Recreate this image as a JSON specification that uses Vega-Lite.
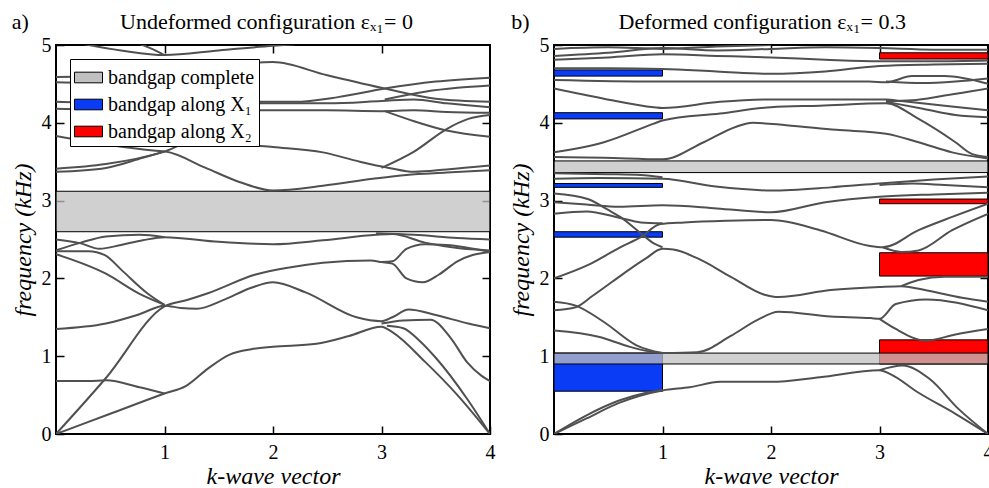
{
  "$schema": "https://vega.github.io/schema/vega-lite/v6.json",
  "padding": {"left": 10, "top": 9, "right": 0, "bottom": 0},
  "background": "white",
  "config": {
    "font": "Liberation Serif",
    "view": {"stroke": "black", "strokeWidth": 2},
    "axis": {"domain": false, "grid": false, "tickColor": "black", "tickWidth": 1.5, "tickSize": -8,
      "labelFont": "Liberation Serif", "labelFontSize": 20, "labelColor": "black", "labelFlush": false, "labelOverlap": false,
      "titleFont": "Liberation Serif", "titleFontSize": 24, "titleFontWeight": "normal", "titleFontStyle": "italic", "titleColor": "black"}
  },
  "datasets": {
    "tags": [
      {"p": "a", "k": -0.33, "f": 5.21, "t": "a)"},
      {"p": "a", "k": 1.94, "f": 5.21, "t": "Undeformed configuration  εₓ₁= 0"},
      {"p": "b", "k": -0.31, "f": 5.21, "t": "b)"},
      {"p": "b", "k": 1.92, "f": 5.21, "t": "Deformed configuration  εₓ₁= 0.3"}
    ],
    "gaps": [
      {"p": "a", "type": "bandgap complete", "k1": 0, "k2": 4, "f1": 2.6, "f2": 3.12},
      {"p": "b", "type": "bandgap along X₁", "k1": 0, "k2": 1, "f1": 4.6, "f2": 4.68},
      {"p": "b", "type": "bandgap along X₁", "k1": 0, "k2": 1, "f1": 4.05, "f2": 4.13},
      {"p": "b", "type": "bandgap along X₁", "k1": 0, "k2": 1, "f1": 3.17, "f2": 3.22},
      {"p": "b", "type": "bandgap along X₁", "k1": 0, "k2": 1, "f1": 2.53, "f2": 2.6},
      {"p": "b", "type": "bandgap along X₁", "k1": 0, "k2": 1, "f1": 0.55, "f2": 1.04},
      {"p": "b", "type": "bandgap along X₂", "k1": 3, "k2": 4, "f1": 4.82, "f2": 4.9},
      {"p": "b", "type": "bandgap along X₂", "k1": 3, "k2": 4, "f1": 2.96, "f2": 3.02},
      {"p": "b", "type": "bandgap along X₂", "k1": 3, "k2": 4, "f1": 2.03, "f2": 2.33},
      {"p": "b", "type": "bandgap along X₂", "k1": 3, "k2": 4, "f1": 0.9, "f2": 1.21},
      {"p": "b", "type": "bandgap complete", "k1": 0, "k2": 4, "f1": 3.36, "f2": 3.51},
      {"p": "b", "type": "bandgap complete", "k1": 0, "k2": 4, "f1": 0.9, "f2": 1.04}
    ],
    "bands": [
      {"p":"a","b":"a1","k":0,"f":0},{"p":"a","b":"a1","k":0.5,"f":0.26},{"p":"a","b":"a1","k":1,"f":0.52},{"p":"a","b":"a1","k":1.2,"f":0.62},{"p":"a","b":"a1","k":1.4,"f":0.84},{"p":"a","b":"a1","k":1.6,"f":1.02},{"p":"a","b":"a1","k":1.8,"f":1.09},{"p":"a","b":"a1","k":2,"f":1.12},{"p":"a","b":"a1","k":2.4,"f":1.16},{"p":"a","b":"a1","k":2.7,"f":1.26},{"p":"a","b":"a1","k":3,"f":1.38},{"p":"a","b":"a1","k":3.1,"f":1.31},{"p":"a","b":"a1","k":3.4,"f":0.93},{"p":"a","b":"a1","k":3.7,"f":0.5},{"p":"a","b":"a1","k":4,"f":0},
      {"p":"a","b":"a2","k":0,"f":0},{"p":"a","b":"a2","k":0.46,"f":0.72},{"p":"a","b":"a2","k":1,"f":1.64},{"p":"a","b":"a2","k":1.2,"f":1.72},{"p":"a","b":"a2","k":1.4,"f":1.81},{"p":"a","b":"a2","k":1.84,"f":2.05},{"p":"a","b":"a2","k":2.15,"f":2.14},{"p":"a","b":"a2","k":2.46,"f":2.2},{"p":"a","b":"a2","k":2.9,"f":2.23},{"p":"a","b":"a2","k":3,"f":2.21},{"p":"a","b":"a2","k":3.1,"f":2.19},{"p":"a","b":"a2","k":3.23,"f":2.0},{"p":"a","b":"a2","k":3.38,"f":1.95},{"p":"a","b":"a2","k":3.53,"f":2.05},{"p":"a","b":"a2","k":3.7,"f":2.22},{"p":"a","b":"a2","k":3.84,"f":2.3},{"p":"a","b":"a2","k":4,"f":2.34},
      {"p":"a","b":"a3","k":0,"f":0.68},{"p":"a","b":"a3","k":0.3,"f":0.68},{"p":"a","b":"a3","k":0.46,"f":0.69},{"p":"a","b":"a3","k":0.77,"f":0.6},{"p":"a","b":"a3","k":1,"f":0.52},
      {"p":"a","b":"a4","k":0,"f":1.35},{"p":"a","b":"a4","k":0.46,"f":1.42},{"p":"a","b":"a4","k":0.77,"f":1.54},{"p":"a","b":"a4","k":1,"f":1.65},{"p":"a","b":"a4","k":1.15,"f":1.62},{"p":"a","b":"a4","k":1.3,"f":1.61},{"p":"a","b":"a4","k":1.54,"f":1.72},{"p":"a","b":"a4","k":1.8,"f":1.88},{"p":"a","b":"a4","k":2,"f":1.95},{"p":"a","b":"a4","k":2.3,"f":1.82},{"p":"a","b":"a4","k":2.77,"f":1.5},{"p":"a","b":"a4","k":3,"f":1.45},{"p":"a","b":"a4","k":3.1,"f":1.5},{"p":"a","b":"a4","k":3.25,"f":1.6},{"p":"a","b":"a4","k":3.5,"f":1.53},{"p":"a","b":"a4","k":3.8,"f":1.42},{"p":"a","b":"a4","k":4,"f":1.36},
      {"p":"a","b":"a5","k":0,"f":2.31},{"p":"a","b":"a5","k":0.46,"f":2.06},{"p":"a","b":"a5","k":0.77,"f":1.8},{"p":"a","b":"a5","k":1,"f":1.66},
      {"p":"a","b":"a6","k":0,"f":2.35},{"p":"a","b":"a6","k":0.3,"f":2.35},{"p":"a","b":"a6","k":0.45,"f":2.3},{"p":"a","b":"a6","k":0.61,"f":2.1},{"p":"a","b":"a6","k":0.85,"f":1.8},{"p":"a","b":"a6","k":1,"f":1.66},
      {"p":"a","b":"a7","k":3,"f":1.42},{"p":"a","b":"a7","k":3.2,"f":1.46},{"p":"a","b":"a7","k":3.45,"f":1.47},{"p":"a","b":"a7","k":3.64,"f":1.23},{"p":"a","b":"a7","k":3.79,"f":0.92},{"p":"a","b":"a7","k":3.92,"f":0.75},{"p":"a","b":"a7","k":4,"f":0.68},
      {"p":"a","b":"a8","k":3.05,"f":1.39},{"p":"a","b":"a8","k":3.2,"f":1.36},{"p":"a","b":"a8","k":3.35,"f":1.2},{"p":"a","b":"a8","k":3.5,"f":0.98},{"p":"a","b":"a8","k":3.79,"f":0.45},{"p":"a","b":"a8","k":4,"f":0},
      {"p":"a","b":"a9","k":3,"f":2.21},{"p":"a","b":"a9","k":3.1,"f":2.22},{"p":"a","b":"a9","k":3.23,"f":2.38},{"p":"a","b":"a9","k":3.4,"f":2.44},{"p":"a","b":"a9","k":3.6,"f":2.43},{"p":"a","b":"a9","k":4,"f":2.34},
      {"p":"a","b":"a10","k":0,"f":2.5},{"p":"a","b":"a10","k":0.23,"f":2.45},{"p":"a","b":"a10","k":0.4,"f":2.38},{"p":"a","b":"a10","k":0.6,"f":2.43},{"p":"a","b":"a10","k":0.8,"f":2.49},{"p":"a","b":"a10","k":1,"f":2.53},{"p":"a","b":"a10","k":1.5,"f":2.47},{"p":"a","b":"a10","k":2,"f":2.44},{"p":"a","b":"a10","k":2.46,"f":2.49},{"p":"a","b":"a10","k":2.95,"f":2.56},{"p":"a","b":"a10","k":3.1,"f":2.57},{"p":"a","b":"a10","k":3.4,"f":2.46},{"p":"a","b":"a10","k":3.7,"f":2.39},{"p":"a","b":"a10","k":4,"f":2.36},
      {"p":"a","b":"a11","k":0,"f":2.36},{"p":"a","b":"a11","k":0.23,"f":2.46},{"p":"a","b":"a11","k":0.46,"f":2.54},{"p":"a","b":"a11","k":0.77,"f":2.56},{"p":"a","b":"a11","k":1,"f":2.53},
      {"p":"a","b":"a12","k":2.95,"f":2.58},{"p":"a","b":"a12","k":3.3,"f":2.56},{"p":"a","b":"a12","k":3.7,"f":2.52},{"p":"a","b":"a12","k":4,"f":2.5},
      {"p":"a","b":"a13","k":0,"f":3.83},{"p":"a","b":"a13","k":0.46,"f":3.72},{"p":"a","b":"a13","k":0.92,"f":3.64},{"p":"a","b":"a13","k":1.01,"f":3.63},{"p":"a","b":"a13","k":1.38,"f":3.42},{"p":"a","b":"a13","k":1.69,"f":3.24},{"p":"a","b":"a13","k":2,"f":3.13},{"p":"a","b":"a13","k":2.46,"f":3.19},{"p":"a","b":"a13","k":2.92,"f":3.28},{"p":"a","b":"a13","k":3.23,"f":3.33},{"p":"a","b":"a13","k":3.6,"f":3.36},{"p":"a","b":"a13","k":4,"f":3.39},
      {"p":"a","b":"a14","k":0,"f":3.41},{"p":"a","b":"a14","k":0.46,"f":3.47},{"p":"a","b":"a14","k":1,"f":3.63},{"p":"a","b":"a14","k":1.37,"f":3.82},{"p":"a","b":"a14","k":1.69,"f":3.73},{"p":"a","b":"a14","k":2,"f":3.69},{"p":"a","b":"a14","k":2.46,"f":3.62},{"p":"a","b":"a14","k":2.8,"f":3.5},{"p":"a","b":"a14","k":3.07,"f":3.42},{"p":"a","b":"a14","k":3.3,"f":3.37},{"p":"a","b":"a14","k":3.6,"f":3.4},{"p":"a","b":"a14","k":4,"f":3.45},
      {"p":"a","b":"a15","k":0,"f":3.37},{"p":"a","b":"a15","k":0.46,"f":3.42},{"p":"a","b":"a15","k":0.8,"f":3.55},{"p":"a","b":"a15","k":1,"f":3.63},
      {"p":"a","b":"a16","k":0,"f":4.59},{"p":"a","b":"a16","k":0.5,"f":4.6},{"p":"a","b":"a16","k":1,"f":4.65},{"p":"a","b":"a16","k":1.5,"f":4.74},{"p":"a","b":"a16","k":2,"f":4.78},{"p":"a","b":"a16","k":2.5,"f":4.61},{"p":"a","b":"a16","k":3.03,"f":4.44},{"p":"a","b":"a16","k":3.5,"f":4.31},{"p":"a","b":"a16","k":4,"f":4.27},
      {"p":"a","b":"a17","k":0,"f":4.52},{"p":"a","b":"a17","k":0.5,"f":4.5},{"p":"a","b":"a17","k":1,"f":4.4},{"p":"a","b":"a17","k":1.5,"f":4.3},{"p":"a","b":"a17","k":1.84,"f":4.27},{"p":"a","b":"a17","k":2.2,"f":4.27},{"p":"a","b":"a17","k":2.6,"f":4.33},{"p":"a","b":"a17","k":3.03,"f":4.44},{"p":"a","b":"a17","k":3.5,"f":4.53},{"p":"a","b":"a17","k":4,"f":4.58},
      {"p":"a","b":"a19","k":3.03,"f":4.3},{"p":"a","b":"a19","k":3.4,"f":4.4},{"p":"a","b":"a19","k":3.7,"f":4.45},{"p":"a","b":"a19","k":4,"f":4.48},
      {"p":"a","b":"a20","k":0,"f":4.27},{"p":"a","b":"a20","k":0.5,"f":4.25},{"p":"a","b":"a20","k":1,"f":4.24},{"p":"a","b":"a20","k":1.5,"f":4.25},{"p":"a","b":"a20","k":2,"f":4.25},{"p":"a","b":"a20","k":2.5,"f":4.25},{"p":"a","b":"a20","k":3,"f":4.28},{"p":"a","b":"a20","k":3.3,"f":4.3},{"p":"a","b":"a20","k":3.6,"f":4.25},{"p":"a","b":"a20","k":4,"f":4.2},
      {"p":"a","b":"a21","k":0,"f":4.18},{"p":"a","b":"a21","k":0.5,"f":4.17},{"p":"a","b":"a21","k":1,"f":4.17},{"p":"a","b":"a21","k":1.5,"f":4.16},{"p":"a","b":"a21","k":2,"f":4.16},{"p":"a","b":"a21","k":2.5,"f":4.16},{"p":"a","b":"a21","k":3,"f":4.15},{"p":"a","b":"a21","k":3.3,"f":4.16},{"p":"a","b":"a21","k":3.6,"f":4.14},{"p":"a","b":"a21","k":4,"f":4.13},
      {"p":"a","b":"a23","k":3,"f":3.42},{"p":"a","b":"a23","k":3.3,"f":3.63},{"p":"a","b":"a23","k":3.6,"f":3.92},{"p":"a","b":"a23","k":3.8,"f":4.05},{"p":"a","b":"a23","k":4,"f":4.1},
      {"p":"a","b":"a24","k":3.03,"f":4.15},{"p":"a","b":"a24","k":3.3,"f":4.02},{"p":"a","b":"a24","k":3.6,"f":3.9},{"p":"a","b":"a24","k":4,"f":3.82},
      {"p":"a","b":"a25","k":0.15,"f":5.04},{"p":"a","b":"a25","k":0.6,"f":4.93},{"p":"a","b":"a25","k":1,"f":4.87},{"p":"a","b":"a25","k":1.5,"f":4.93},{"p":"a","b":"a25","k":2,"f":4.99},{"p":"a","b":"a25","k":2.2,"f":5.01},
      {"p":"a","b":"a26","k":0.7,"f":5.05},{"p":"a","b":"a26","k":0.9,"f":4.94},{"p":"a","b":"a26","k":1,"f":4.87},

      {"p":"b","b":"b1","k":0,"f":0},{"p":"b","b":"b1","k":0.3,"f":0.2},{"p":"b","b":"b1","k":0.6,"f":0.4},{"p":"b","b":"b1","k":1,"f":0.56},{"p":"b","b":"b1","k":1.25,"f":0.6},{"p":"b","b":"b1","k":1.53,"f":0.67},{"p":"b","b":"b1","k":2,"f":0.67},{"p":"b","b":"b1","k":2.45,"f":0.73},{"p":"b","b":"b1","k":3,"f":0.82},{"p":"b","b":"b1","k":3.1,"f":0.77},{"p":"b","b":"b1","k":3.36,"f":0.53},{"p":"b","b":"b1","k":3.7,"f":0.26},{"p":"b","b":"b1","k":4,"f":0},
      {"p":"b","b":"b2","k":0,"f":0},{"p":"b","b":"b2","k":0.3,"f":0.24},{"p":"b","b":"b2","k":0.6,"f":0.43},{"p":"b","b":"b2","k":0.85,"f":0.53},{"p":"b","b":"b2","k":1,"f":0.57},
      {"p":"b","b":"b3","k":3,"f":0.82},{"p":"b","b":"b3","k":3.21,"f":0.88},{"p":"b","b":"b3","k":3.46,"f":0.71},{"p":"b","b":"b3","k":3.73,"f":0.32},{"p":"b","b":"b3","k":4,"f":0},
      {"p":"b","b":"b4","k":0,"f":1.33},{"p":"b","b":"b4","k":0.41,"f":1.25},{"p":"b","b":"b4","k":0.7,"f":1.12},{"p":"b","b":"b4","k":0.92,"f":1.05},{"p":"b","b":"b4","k":1,"f":1.04},
      {"p":"b","b":"b5","k":0,"f":1.7},{"p":"b","b":"b5","k":0.2,"f":1.65},{"p":"b","b":"b5","k":0.46,"f":1.44},{"p":"b","b":"b5","k":0.76,"f":1.14},{"p":"b","b":"b5","k":1,"f":1.04},
      {"p":"b","b":"b6","k":0,"f":1.59},{"p":"b","b":"b6","k":0.2,"f":1.63},{"p":"b","b":"b6","k":0.35,"f":1.77},{"p":"b","b":"b6","k":0.53,"f":1.95},{"p":"b","b":"b6","k":0.7,"f":2.12},{"p":"b","b":"b6","k":0.84,"f":2.25},{"p":"b","b":"b6","k":1,"f":2.38},{"p":"b","b":"b6","k":1.1,"f":2.37},{"p":"b","b":"b6","k":1.32,"f":2.26},{"p":"b","b":"b6","k":1.63,"f":2.02},{"p":"b","b":"b6","k":1.94,"f":1.79},{"p":"b","b":"b6","k":2.07,"f":1.76},{"p":"b","b":"b6","k":2.55,"f":1.85},{"p":"b","b":"b6","k":3,"f":1.89},{"p":"b","b":"b6","k":3.2,"f":1.9},{"p":"b","b":"b6","k":3.45,"f":1.84},{"p":"b","b":"b6","k":3.76,"f":1.75},{"p":"b","b":"b6","k":4,"f":1.7},
      {"p":"b","b":"b7","k":3.2,"f":1.9},{"p":"b","b":"b7","k":3.36,"f":1.98},{"p":"b","b":"b7","k":3.6,"f":2.02},{"p":"b","b":"b7","k":4,"f":2.02},
      {"p":"b","b":"b31","k":1,"f":1.04},{"p":"b","b":"b31","k":1.32,"f":1.05},{"p":"b","b":"b31","k":1.63,"f":1.26},{"p":"b","b":"b31","k":1.88,"f":1.47},{"p":"b","b":"b31","k":2.07,"f":1.57},{"p":"b","b":"b31","k":2.55,"f":1.51},{"p":"b","b":"b31","k":2.92,"f":1.49},{"p":"b","b":"b31","k":3,"f":1.48},{"p":"b","b":"b31","k":3.15,"f":1.67},{"p":"b","b":"b31","k":3.43,"f":1.73},{"p":"b","b":"b31","k":4,"f":1.59},
      {"p":"b","b":"b32","k":3,"f":1.48},{"p":"b","b":"b32","k":3.15,"f":1.35},{"p":"b","b":"b32","k":3.43,"f":1.2},{"p":"b","b":"b32","k":3.7,"f":1.28},{"p":"b","b":"b32","k":4,"f":1.35},
      {"p":"b","b":"b8","k":0,"f":2.0},{"p":"b","b":"b8","k":0.31,"f":2.17},{"p":"b","b":"b8","k":0.61,"f":2.4},{"p":"b","b":"b8","k":0.8,"f":2.53},{"p":"b","b":"b8","k":0.98,"f":2.7},{"p":"b","b":"b8","k":1.2,"f":2.72},{"p":"b","b":"b8","k":1.6,"f":2.74},{"p":"b","b":"b8","k":2,"f":2.75},{"p":"b","b":"b8","k":2.45,"f":2.62},{"p":"b","b":"b8","k":2.9,"f":2.42},{"p":"b","b":"b8","k":3.03,"f":2.4},{"p":"b","b":"b8","k":3.36,"f":2.62},{"p":"b","b":"b8","k":3.67,"f":2.79},{"p":"b","b":"b8","k":4,"f":2.96},
      {"p":"b","b":"b9","k":3.03,"f":2.4},{"p":"b","b":"b9","k":3.2,"f":2.34},{"p":"b","b":"b9","k":3.36,"f":2.36},{"p":"b","b":"b9","k":3.67,"f":2.62},{"p":"b","b":"b9","k":4,"f":2.83},
      {"p":"b","b":"b11","k":0,"f":3.09},{"p":"b","b":"b11","k":0.31,"f":3.02},{"p":"b","b":"b11","k":0.5,"f":2.88},{"p":"b","b":"b11","k":0.61,"f":2.79},{"p":"b","b":"b11","k":0.8,"f":2.58},{"p":"b","b":"b11","k":0.92,"f":2.45},{"p":"b","b":"b11","k":1,"f":2.4},
      {"p":"b","b":"b12","k":0,"f":2.98},{"p":"b","b":"b12","k":0.3,"f":2.95},{"p":"b","b":"b12","k":0.6,"f":2.92},{"p":"b","b":"b12","k":1,"f":2.94},{"p":"b","b":"b12","k":1.5,"f":2.9},{"p":"b","b":"b12","k":2,"f":2.85},{"p":"b","b":"b12","k":2.5,"f":2.98},{"p":"b","b":"b12","k":3,"f":3.05},{"p":"b","b":"b12","k":3.5,"f":3.08},{"p":"b","b":"b12","k":4,"f":3.1},
      {"p":"b","b":"b13","k":0,"f":2.83},{"p":"b","b":"b13","k":0.3,"f":2.86},{"p":"b","b":"b13","k":0.6,"f":2.78},{"p":"b","b":"b13","k":0.8,"f":2.72},{"p":"b","b":"b13","k":1,"f":2.71},
      {"p":"b","b":"b14","k":0,"f":3.28},{"p":"b","b":"b14","k":0.41,"f":3.29},{"p":"b","b":"b14","k":1,"f":3.28},{"p":"b","b":"b14","k":1.49,"f":3.18},{"p":"b","b":"b14","k":2,"f":3.13},{"p":"b","b":"b14","k":2.55,"f":3.17},{"p":"b","b":"b14","k":3,"f":3.22},{"p":"b","b":"b14","k":3.5,"f":3.27},{"p":"b","b":"b14","k":4,"f":3.31},
      {"p":"b","b":"b16","k":3,"f":3.2},{"p":"b","b":"b16","k":3.3,"f":3.22},{"p":"b","b":"b16","k":3.6,"f":3.2},{"p":"b","b":"b16","k":4,"f":3.17},
      {"p":"b","b":"b30","k":0,"f":3.35},{"p":"b","b":"b30","k":0.5,"f":3.34},{"p":"b","b":"b30","k":0.8,"f":3.33},{"p":"b","b":"b30","k":1,"f":3.3},
      {"p":"b","b":"b18","k":0,"f":3.56},{"p":"b","b":"b18","k":0.46,"f":3.55},{"p":"b","b":"b18","k":1,"f":3.53},{"p":"b","b":"b18","k":1.38,"f":3.75},{"p":"b","b":"b18","k":1.68,"f":3.95},{"p":"b","b":"b18","k":1.83,"f":4.0},{"p":"b","b":"b18","k":2.14,"f":3.97},{"p":"b","b":"b18","k":2.6,"f":3.91},{"p":"b","b":"b18","k":3.06,"f":3.86},{"p":"b","b":"b18","k":3.36,"f":3.75},{"p":"b","b":"b18","k":3.67,"f":3.62},{"p":"b","b":"b18","k":4,"f":3.54},
      {"p":"b","b":"b19","k":0,"f":3.62},{"p":"b","b":"b19","k":0.46,"f":3.75},{"p":"b","b":"b19","k":0.92,"f":3.99},{"p":"b","b":"b19","k":1,"f":4.03},{"p":"b","b":"b19","k":1.53,"f":4.12},{"p":"b","b":"b19","k":2,"f":4.2},{"p":"b","b":"b19","k":2.45,"f":4.22},{"p":"b","b":"b19","k":3.06,"f":4.25},{"p":"b","b":"b19","k":3.36,"f":4.05},{"p":"b","b":"b19","k":3.7,"f":3.75},{"p":"b","b":"b19","k":3.85,"f":3.6},{"p":"b","b":"b19","k":4,"f":3.56},
      {"p":"b","b":"b20","k":0,"f":4.44},{"p":"b","b":"b20","k":0.46,"f":4.31},{"p":"b","b":"b20","k":0.92,"f":4.2},{"p":"b","b":"b20","k":1,"f":4.19},{"p":"b","b":"b20","k":1.53,"f":4.27},{"p":"b","b":"b20","k":2,"f":4.3},{"p":"b","b":"b20","k":3.06,"f":4.3},{"p":"b","b":"b20","k":3.2,"f":4.28},{"p":"b","b":"b20","k":3.6,"f":4.22},{"p":"b","b":"b20","k":4,"f":4.16},
      {"p":"b","b":"b21","k":3.06,"f":4.28},{"p":"b","b":"b21","k":3.3,"f":4.29},{"p":"b","b":"b21","k":3.6,"f":4.35},{"p":"b","b":"b21","k":4,"f":4.44},
      {"p":"b","b":"b22","k":3.06,"f":4.27},{"p":"b","b":"b22","k":3.4,"f":4.18},{"p":"b","b":"b22","k":3.7,"f":4.1},{"p":"b","b":"b22","k":4,"f":4.07},
      {"p":"b","b":"b23","k":0,"f":4.55},{"p":"b","b":"b23","k":0.92,"f":4.53},{"p":"b","b":"b23","k":2,"f":4.53},{"p":"b","b":"b23","k":2.9,"f":4.53},{"p":"b","b":"b23","k":3.06,"f":4.52},{"p":"b","b":"b23","k":3.3,"f":4.6},{"p":"b","b":"b23","k":3.6,"f":4.6},{"p":"b","b":"b23","k":4,"f":4.5},
      {"p":"b","b":"b24","k":3.06,"f":4.53},{"p":"b","b":"b24","k":3.4,"f":4.51},{"p":"b","b":"b24","k":3.7,"f":4.53},{"p":"b","b":"b24","k":4,"f":4.57},
      {"p":"b","b":"b25","k":0,"f":4.7},{"p":"b","b":"b25","k":0.5,"f":4.7},{"p":"b","b":"b25","k":1,"f":4.69},{"p":"b","b":"b25","k":1.5,"f":4.66},{"p":"b","b":"b25","k":2,"f":4.63},{"p":"b","b":"b25","k":2.5,"f":4.66},{"p":"b","b":"b25","k":3,"f":4.73},{"p":"b","b":"b25","k":3.5,"f":4.75},{"p":"b","b":"b25","k":4,"f":4.76},
      {"p":"b","b":"b26","k":0,"f":4.81},{"p":"b","b":"b26","k":0.5,"f":4.84},{"p":"b","b":"b26","k":1,"f":4.88},{"p":"b","b":"b26","k":1.5,"f":4.86},{"p":"b","b":"b26","k":2,"f":4.84},{"p":"b","b":"b26","k":2.5,"f":4.81},{"p":"b","b":"b26","k":3,"f":4.79},{"p":"b","b":"b26","k":3.5,"f":4.79},{"p":"b","b":"b26","k":4,"f":4.8},
      {"p":"b","b":"b27","k":0,"f":4.86},{"p":"b","b":"b27","k":0.5,"f":4.9},{"p":"b","b":"b27","k":1,"f":4.96},{"p":"b","b":"b27","k":1.5,"f":4.93},{"p":"b","b":"b27","k":2,"f":4.95},{"p":"b","b":"b27","k":2.5,"f":4.97},{"p":"b","b":"b27","k":3,"f":4.96},{"p":"b","b":"b27","k":3.5,"f":4.94},{"p":"b","b":"b27","k":4,"f":4.94},
      {"p":"b","b":"b28","k":0,"f":4.95},{"p":"b","b":"b28","k":0.5,"f":4.97},{"p":"b","b":"b28","k":1,"f":4.95},{"p":"b","b":"b28","k":1.5,"f":4.98},{"p":"b","b":"b28","k":2,"f":5.0}
    ]
  },
  "spacing": 12,
  "resolve": {"scale": {"color": "independent"}, "legend": {"color": "independent"}},
  "hconcat": [
    {
      "width": 434, "height": 389,
      "layer": [
        {
          "data": {"name": "gaps"},
          "transform": [{"filter": "datum.p === 'a' && datum.type !== 'bandgap complete'"}],
          "mark": {"type": "rect", "stroke": "black", "strokeWidth": 1},
          "encoding": {
            "x": {"field": "k1", "type": "quantitative", "scale": {"domain": [0, 4], "nice": false, "zero": false}, "axis": null},
            "x2": {"field": "k2"},
            "y": {"field": "f1", "type": "quantitative", "scale": {"domain": [0, 5], "nice": false, "zero": false}, "axis": null},
            "y2": {"field": "f2"},
            "color": {"field": "type", "type": "nominal", "scale": {"domain": ["bandgap complete", "bandgap along X₁", "bandgap along X₂"], "range": ["#c0c0c0", "#0a3cf5", "#ff0000"]},
              "legend": {"title": null, "orient": "top-left", "offset": 14, "fillColor": "white", "strokeColor": "black", "padding": 4, "rowPadding": 2, "labelFont": "Liberation Serif", "labelFontSize": 20, "labelColor": "black", "labelOffset": 5, "symbolType": "M-1,-0.38H1V0.38H-1Z", "symbolSize": 784, "symbolStrokeColor": "black", "symbolStrokeWidth": 1, "symbolOpacity": 1}}
          }
        },
        {
          "data": {"name": "gaps"},
          "transform": [{"filter": "datum.p === 'a' && datum.type === 'bandgap complete'"}],
          "mark": {"type": "rect", "stroke": "black", "strokeWidth": 1, "fillOpacity": 0.75},
          "encoding": {
            "x": {"field": "k1", "type": "quantitative", "scale": {"domain": [0, 4], "nice": false, "zero": false}, "axis": {"orient": "top", "values": [1, 2, 3], "labels": false, "title": null}},
            "x2": {"field": "k2"},
            "y": {"field": "f1", "type": "quantitative", "scale": {"domain": [0, 5], "nice": false, "zero": false}, "axis": {"orient": "right", "values": [1, 2, 3, 4], "labels": false, "title": null}},
            "y2": {"field": "f2"},
            "color": {"field": "type", "type": "nominal", "scale": {"domain": ["bandgap complete", "bandgap along X₁", "bandgap along X₂"], "range": ["#c0c0c0", "#0a3cf5", "#ff0000"]},
              "legend": {"title": null, "orient": "top-left", "offset": 14, "fillColor": "white", "strokeColor": "black", "padding": 4, "rowPadding": 2, "labelFont": "Liberation Serif", "labelFontSize": 20, "labelColor": "black", "labelOffset": 5, "symbolType": "M-1,-0.38H1V0.38H-1Z", "symbolSize": 784, "symbolStrokeColor": "black", "symbolStrokeWidth": 1, "symbolOpacity": 1}}
          }
        },
        {
          "data": {"name": "bands"},
          "transform": [{"filter": "datum.p === 'a'"}],
          "mark": {"type": "line", "interpolate": "monotone", "color": "#505050", "strokeWidth": 2, "clip": true},
          "encoding": {
            "x": {"field": "k", "type": "quantitative", "scale": {"domain": [0, 4], "nice": false, "zero": false}, "axis": {"orient": "bottom", "values": [1, 2, 3, 4], "title": "k-wave vector", "labelFont": "Liberation Serif", "titleFont": "Liberation Serif", "labelPadding": 16, "titlePadding": 2}},
            "y": {"field": "f", "type": "quantitative", "scale": {"domain": [0, 5], "nice": false, "zero": false}, "axis": {"orient": "left", "values": [0, 1, 2, 3, 4, 5], "title": "frequency (kHz)", "labelFont": "Liberation Serif", "titleFont": "Liberation Serif", "labelPadding": 13, "titlePadding": 6}},
            "detail": {"field": "b", "type": "nominal"}
          }
        },
        {
          "data": {"name": "tags"},
          "transform": [{"filter": "datum.p === 'a'"}],
          "mark": {"type": "text", "font": "Liberation Serif", "fontSize": 22, "align": "center", "baseline": "alphabetic", "color": "black"},
          "encoding": {
            "x": {"field": "k", "type": "quantitative", "scale": {"domain": [0, 4], "nice": false, "zero": false}, "axis": null},
            "y": {"field": "f", "type": "quantitative", "scale": {"domain": [0, 5], "nice": false, "zero": false}, "axis": null},
            "text": {"field": "t"}
          }
        }
      ],
      "resolve": {"axis": {"x": "independent", "y": "independent"}}
    },
    {
      "width": 434, "height": 389,
      "layer": [
        {
          "data": {"name": "gaps"},
          "transform": [{"filter": "datum.p === 'b' && datum.type !== 'bandgap complete'"}],
          "mark": {"type": "rect", "stroke": "black", "strokeWidth": 1},
          "encoding": {
            "x": {"field": "k1", "type": "quantitative", "scale": {"domain": [0, 4], "nice": false, "zero": false}, "axis": null},
            "x2": {"field": "k2"},
            "y": {"field": "f1", "type": "quantitative", "scale": {"domain": [0, 5], "nice": false, "zero": false}, "axis": null},
            "y2": {"field": "f2"},
            "color": {"field": "type", "type": "nominal", "scale": {"domain": ["bandgap complete", "bandgap along X₁", "bandgap along X₂"], "range": ["#c0c0c0", "#0a3cf5", "#ff0000"]}, "legend": null}
          }
        },
        {
          "data": {"name": "gaps"},
          "transform": [{"filter": "datum.p === 'b' && datum.type === 'bandgap complete'"}],
          "mark": {"type": "rect", "stroke": "black", "strokeWidth": 1, "fillOpacity": 0.75},
          "encoding": {
            "x": {"field": "k1", "type": "quantitative", "scale": {"domain": [0, 4], "nice": false, "zero": false}, "axis": {"orient": "top", "values": [1, 2, 3], "labels": false, "title": null}},
            "x2": {"field": "k2"},
            "y": {"field": "f1", "type": "quantitative", "scale": {"domain": [0, 5], "nice": false, "zero": false}, "axis": {"orient": "right", "values": [1, 2, 3, 4], "labels": false, "title": null}},
            "y2": {"field": "f2"},
            "color": {"field": "type", "type": "nominal", "scale": {"domain": ["bandgap complete", "bandgap along X₁", "bandgap along X₂"], "range": ["#c0c0c0", "#0a3cf5", "#ff0000"]}, "legend": null}
          }
        },
        {
          "data": {"name": "bands"},
          "transform": [{"filter": "datum.p === 'b'"}],
          "mark": {"type": "line", "interpolate": "monotone", "color": "#505050", "strokeWidth": 2, "clip": true},
          "encoding": {
            "x": {"field": "k", "type": "quantitative", "scale": {"domain": [0, 4], "nice": false, "zero": false}, "axis": {"orient": "bottom", "values": [1, 2, 3, 4], "title": "k-wave vector", "labelFont": "Liberation Serif", "titleFont": "Liberation Serif", "labelPadding": 16, "titlePadding": 2}},
            "y": {"field": "f", "type": "quantitative", "scale": {"domain": [0, 5], "nice": false, "zero": false}, "axis": {"orient": "left", "values": [0, 1, 2, 3, 4, 5], "title": "frequency (kHz)", "labelFont": "Liberation Serif", "titleFont": "Liberation Serif", "labelPadding": 13, "titlePadding": 6}},
            "detail": {"field": "b", "type": "nominal"}
          }
        },
        {
          "data": {"name": "tags"},
          "transform": [{"filter": "datum.p === 'b'"}],
          "mark": {"type": "text", "font": "Liberation Serif", "fontSize": 22, "align": "center", "baseline": "alphabetic", "color": "black"},
          "encoding": {
            "x": {"field": "k", "type": "quantitative", "scale": {"domain": [0, 4], "nice": false, "zero": false}, "axis": null},
            "y": {"field": "f", "type": "quantitative", "scale": {"domain": [0, 5], "nice": false, "zero": false}, "axis": null},
            "text": {"field": "t"}
          }
        }
      ],
      "resolve": {"axis": {"x": "independent", "y": "independent"}}
    }
  ]
}
